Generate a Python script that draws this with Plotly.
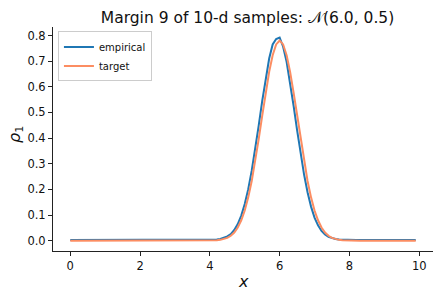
import plotly.graph_objects as go

x_vals = [round(i * 0.1, 1) for i in range(100)]

# empirical density (x = 0.0 .. 9.9, step 0.1)
empirical = (
    [0.003] * 40 +
    [0.0035, 0.004, 0.005, 0.007, 0.011, 0.017, 0.026, 0.042, 0.065, 0.098,
     0.143, 0.201, 0.273, 0.357, 0.449, 0.544, 0.633, 0.710, 0.765, 0.786,
     0.792, 0.756, 0.697, 0.617, 0.526, 0.431, 0.340, 0.258, 0.189, 0.133,
     0.090, 0.060, 0.038, 0.024, 0.015, 0.010, 0.0066, 0.0048, 0.0039, 0.0034,
     0.0032] +
    [0.003] * 19
)

# target density
target = (
    [0.0] * 40 +
    [0.0004, 0.0009, 0.0017, 0.0034, 0.0063, 0.0112, 0.0194, 0.0322, 0.0517, 0.0797,
     0.118, 0.169, 0.233, 0.310, 0.396, 0.487, 0.577, 0.658, 0.723, 0.765,
     0.780, 0.765, 0.723, 0.658, 0.577, 0.487, 0.396, 0.310, 0.233, 0.169,
     0.118, 0.0797, 0.0517, 0.0322, 0.0194, 0.0112, 0.0063, 0.0034, 0.0017, 0.0009,
     0.0004] +
    [0.0] * 19
)

x_ticks = [0, 2, 4, 6, 8, 10]
y_ticks = [0.0, 0.1, 0.2, 0.3, 0.4, 0.5, 0.6, 0.7, 0.8]

fig = go.Figure()
fig.add_trace(go.Scatter(x=x_vals, y=empirical, mode="lines", name="empirical",
                         line=dict(color="#1f77b4", width=2)))
fig.add_trace(go.Scatter(x=x_vals, y=target, mode="lines", name="target",
                         line=dict(color="#fc8d62", width=2)))

axis_common = dict(showline=True, linecolor="#222222", linewidth=1, ticks="outside",
                   ticklen=4, tickwidth=1, tickcolor="#222222", showgrid=False,
                   zeroline=False, automargin=False,
                   tickfont=dict(size=11.5, color="#111111"))

fig.update_layout(
    width=440, height=296,
    margin=dict(l=53, r=7, t=27, b=45),
    paper_bgcolor="white", plot_bgcolor="white",
    font=dict(family="DejaVu Sans", color="#111111"),
    title=dict(text="Margin 9 of 10-d samples: 𝒩(6.0, 0.5)", x=247.5 / 440, xref="container",
               xanchor="center", y=1 - 17.5 / 296, yref="container", yanchor="middle",
               font=dict(size=15.5, color="#111111")),
    xaxis=dict(range=[-0.495, 10.395], tickvals=x_ticks, **axis_common),
    yaxis=dict(range=[-0.04, 0.833], tickvals=y_ticks, tickformat=".1f", **axis_common),
    legend=dict(x=0.013, y=0.98, xanchor="left", yanchor="top", bgcolor="white",
                bordercolor="#cccccc", borderwidth=1, font=dict(size=10),
                tracegroupgap=0, itemwidth=30),
    showlegend=True,
    annotations=[
        dict(text="<i>x</i>", xref="paper", yref="paper", x=0.5, y=-(281 - 251) / 224,
             xanchor="center", yanchor="middle", showarrow=False, font=dict(size=16)),
        dict(text="<i>ρ</i><sub>1</sub>", xref="paper", yref="paper",
             x=-(53 - 15) / 380, y=0.5 + 4 / 224, xanchor="center", yanchor="middle",
             showarrow=False, textangle=-90, font=dict(size=16)),
    ],
)

fig.write_html("out.html", config={"displayModeBar": False},
               post_script="document.body.style.margin='0';")
